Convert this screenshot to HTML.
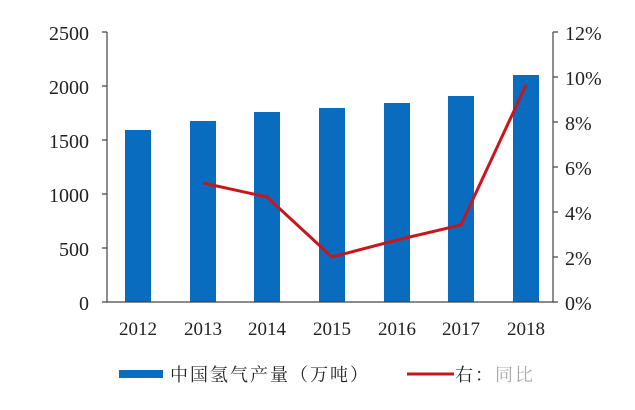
<!DOCTYPE html>
<html><head><meta charset="utf-8"><style>body{margin:0;background:#fff}</style></head><body>
<svg width="635" height="405" xmlns="http://www.w3.org/2000/svg" font-family="'Liberation Serif','Noto Serif CJK SC',serif">
<rect x="0" y="0" width="635" height="405" fill="#fff"/>
<g fill="#0a6cbf">
<rect x="125" y="130" width="26" height="172"/>
<rect x="190" y="121" width="26" height="181"/>
<rect x="254" y="112" width="26" height="190"/>
<rect x="319" y="108" width="26" height="194"/>
<rect x="384" y="103" width="26" height="199"/>
<rect x="448" y="96" width="26" height="206"/>
<rect x="513" y="75" width="26" height="227"/>
</g>
<polyline points="203,183 267,197 332,257 397,240 461,225 526,85" fill="none" stroke="#c8161d" stroke-width="3"/>
<g stroke="#444" stroke-width="1.2" fill="none">
<path d="M107,32V302H553V32"/>
<path d="M102,32H107M102,86H107M102,140H107M102,194H107M102,248H107M102,302H107"/>
<path d="M553,32H558M553,77H558M553,122H558M553,167H558M553,212H558M553,257H558M553,302H558"/>
</g>
<g font-size="20" fill="#222" text-anchor="end">
<text x="89" y="40">2500</text><text x="89" y="94">2000</text><text x="89" y="148">1500</text>
<text x="89" y="202">1000</text><text x="89" y="256">500</text><text x="89" y="310">0</text>
</g>
<g font-size="20" fill="#222">
<text x="565" y="40">12%</text><text x="565" y="85">10%</text><text x="565" y="130">8%</text>
<text x="565" y="175">6%</text><text x="565" y="220">4%</text><text x="565" y="265">2%</text><text x="565" y="310">0%</text>
</g>
<g font-size="19" fill="#222" text-anchor="middle">
<text x="138" y="335">2012</text><text x="203" y="335">2013</text><text x="267" y="335">2014</text>
<text x="332" y="335">2015</text><text x="397" y="335">2016</text><text x="461" y="335">2017</text><text x="526" y="335">2018</text>
</g>
<rect x="119" y="370" width="44" height="8" fill="#0a6cbf"/>
<text x="170" y="381" font-size="18" fill="#222" letter-spacing="2">中国氢气产量（万吨）</text>
<line x1="407" y1="374" x2="454" y2="374" stroke="#c8161d" stroke-width="3"/>
<text x="455" y="381" font-size="18" fill="#222" letter-spacing="2">右：<tspan fill="#aaa">同比</tspan></text>
</svg>
</body></html>
